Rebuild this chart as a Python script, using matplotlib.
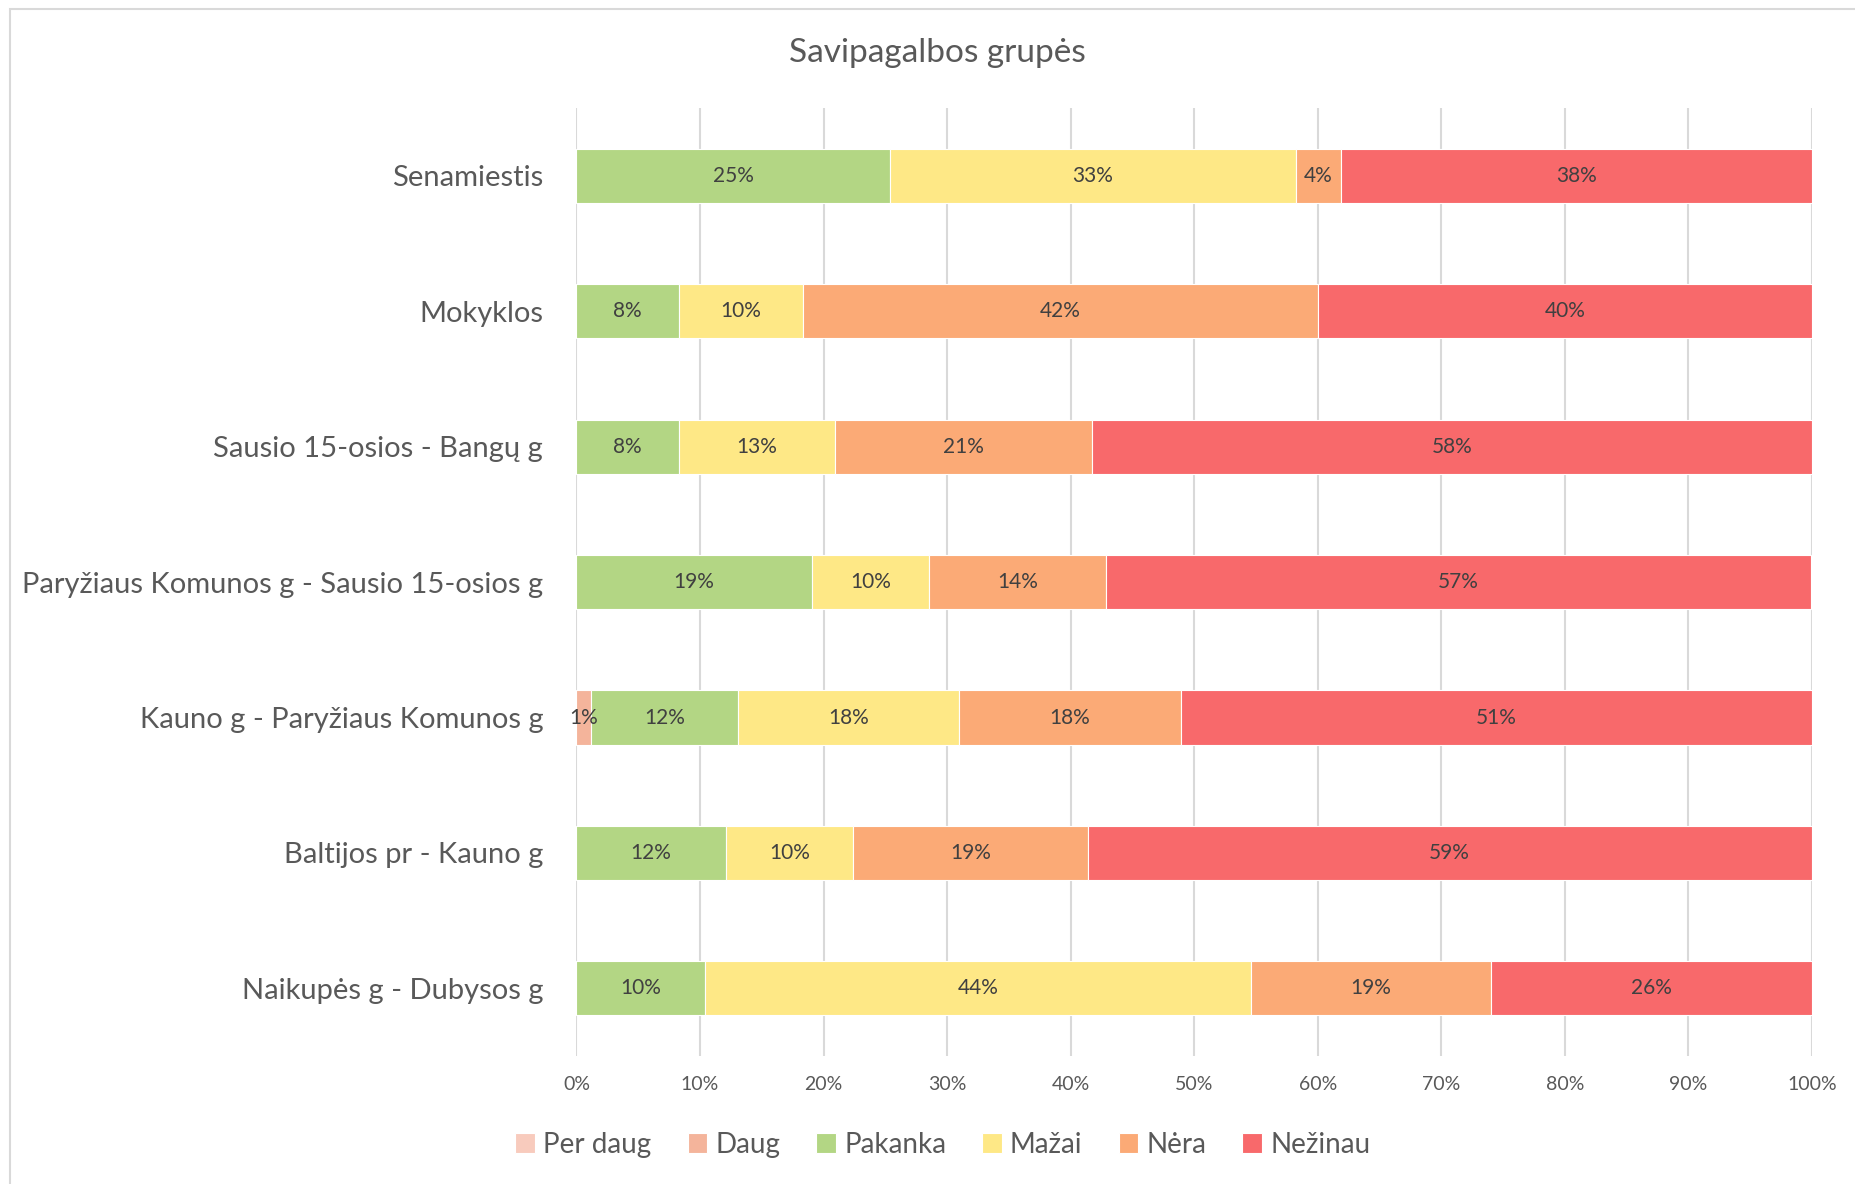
import matplotlib
matplotlib.use("Agg")
import matplotlib.pyplot as plt
from matplotlib.patches import Rectangle
from matplotlib.ticker import PercentFormatter

plt.rcParams['font.family'] = ['Lato', 'DejaVu Sans']

# categories, top to bottom
categories = ['Senamiestis', 'Mokyklos', 'Sausio 15-osios - Bangų g',
              'Paryžiaus Komunos g - Sausio 15-osios g',
              'Kauno g - Paryžiaus Komunos g', 'Baltijos pr - Kauno g',
              'Naikupės g - Dubysos g']

series = ['Per daug', 'Daug', 'Pakanka', 'Mažai', 'Nėra', 'Nežinau']
colors = ['#F8CBBD', '#F4B49B', '#B3D684', '#FEE886', '#FBAA76', '#F8696B']

per_daug = [0, 0, 0, 0, 0, 0, 0]
daug     = [0, 0, 0, 0, 1.2, 0, 0]
pakanka  = [25.4, 8.3, 8.3, 19.05, 11.9, 12.07, 10.4]
mazai    = [32.8, 10.0, 12.6, 9.5, 17.9, 10.3, 44.2]
nera     = [3.7, 41.7, 20.8, 14.3, 17.9, 19.0, 19.4]
nezinau  = [38.1, 40.0, 58.3, 57.1, 51.1, 58.6, 26.0]

values = [per_daug, daug, pakanka, mazai, nera, nezinau]

fig = plt.figure(figsize=(18.56, 11.84), dpi=100)
ax = fig.add_axes([0.3106, 0.108, 0.9763 - 0.3106, 0.9088 - 0.108])

ypos = list(range(len(categories)))
left = [0.0] * len(categories)
for name, vals, col in zip(series, values, colors):
    bars = ax.barh(ypos, vals, left=left, height=0.4, color=col,
                   edgecolor='white', linewidth=0.8, label=name, zorder=3)
    for b, v, l in zip(bars, vals, left):
        if v > 0:
            ax.text(l + v / 2, b.get_y() + b.get_height() / 2,
                    f'{v:.0f}%', ha='center', va='center',
                    fontsize=15, color='#404040', zorder=4)
    left = [a + b for a, b in zip(left, vals)]

ax.set_xlim(0, 100)
ax.set_ylim(len(categories) - 0.5, -0.5)
ax.set_yticks(ypos)
ax.set_yticklabels(categories, fontsize=21, color='#595959')
ax.set_xticks(range(0, 101, 10))
ax.xaxis.set_major_formatter(PercentFormatter(decimals=0))
ax.tick_params(axis='x', labelsize=14, labelcolor='#595959', length=0, pad=14)
ax.tick_params(axis='y', length=0, pad=24)
ax.grid(axis='x', color='#D9D9D9', linewidth=1.5, zorder=0)
for s in ax.spines.values():
    s.set_visible(False)

fig.text(0.505, 0.955, 'Savipagalbos grupės', ha='center', va='center',
         fontsize=24, color='#595959')

leg = fig.legend(loc='center', bbox_to_anchor=(0.508, 0.033), ncol=6,
                 frameon=False, fontsize=20, handlelength=0.7,
                 handleheight=0.7, handletextpad=0.3, columnspacing=1.3)
for t in leg.get_texts():
    t.set_color('#595959')

# chart frame
fig.patches.append(Rectangle((10 / 1856, -0.01), 1.0, 1 - 9 / 1184 + 0.01,
                             transform=fig.transFigure, fill=False,
                             edgecolor='#D9D9D9', linewidth=1.5))

fig.savefig('out.png', dpi=100)
